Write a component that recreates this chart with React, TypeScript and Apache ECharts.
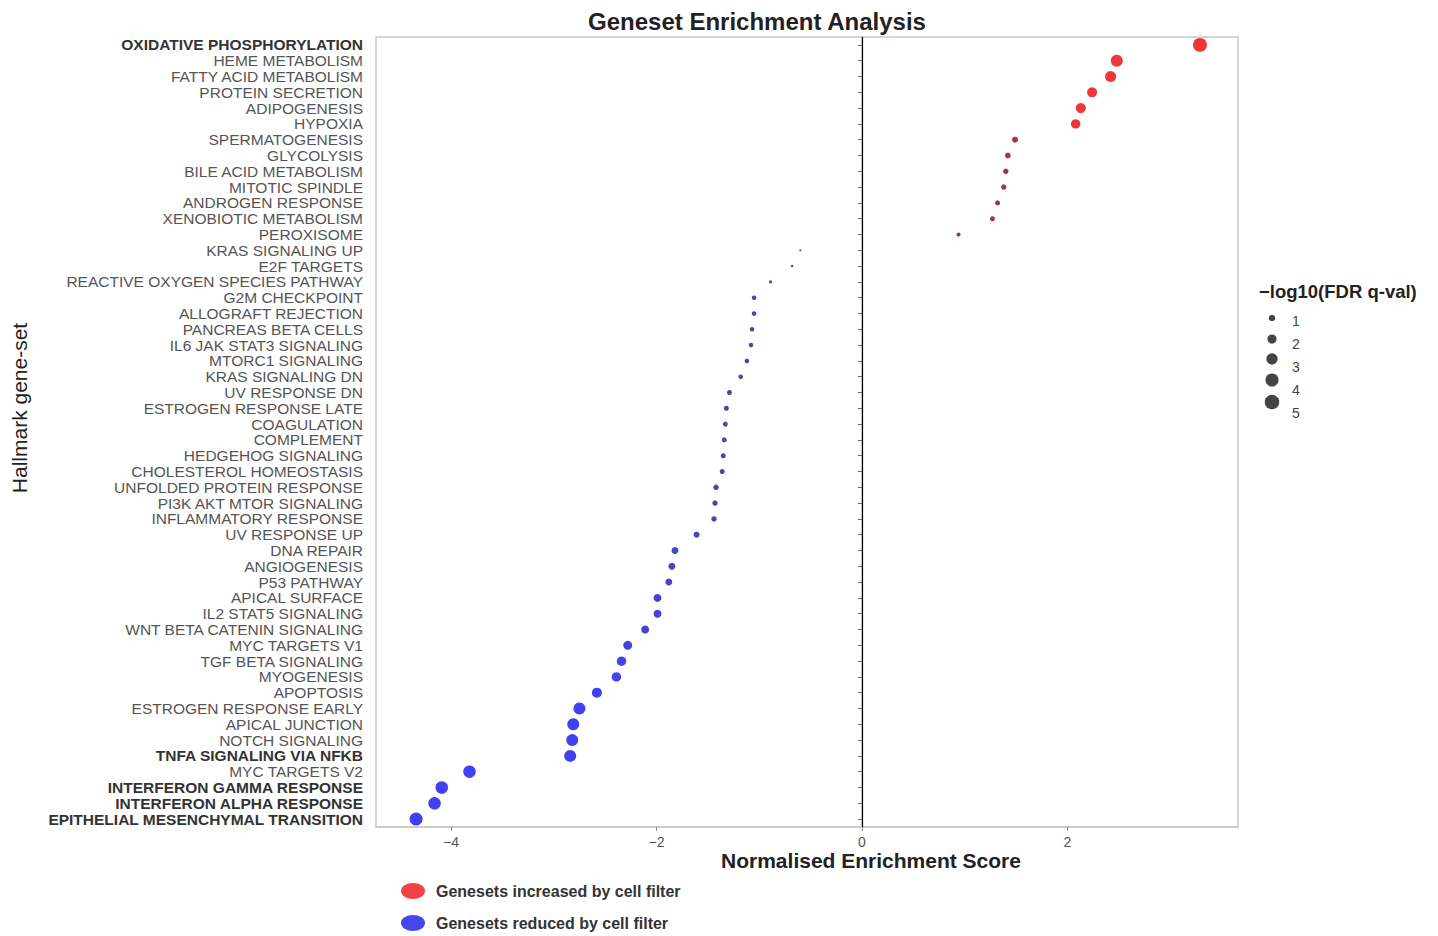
import React, { useEffect, useRef } from "react";
import * as echarts from "echarts";

const categories = [
  "OXIDATIVE PHOSPHORYLATION", "HEME METABOLISM", "FATTY ACID METABOLISM", "PROTEIN SECRETION",
  "ADIPOGENESIS", "HYPOXIA", "SPERMATOGENESIS", "GLYCOLYSIS", "BILE ACID METABOLISM",
  "MITOTIC SPINDLE", "ANDROGEN RESPONSE", "XENOBIOTIC METABOLISM", "PEROXISOME",
  "KRAS SIGNALING UP", "E2F TARGETS", "REACTIVE OXYGEN SPECIES PATHWAY", "G2M CHECKPOINT",
  "ALLOGRAFT REJECTION", "PANCREAS BETA CELLS", "IL6 JAK STAT3 SIGNALING", "MTORC1 SIGNALING",
  "KRAS SIGNALING DN", "UV RESPONSE DN", "ESTROGEN RESPONSE LATE", "COAGULATION", "COMPLEMENT",
  "HEDGEHOG SIGNALING", "CHOLESTEROL HOMEOSTASIS", "UNFOLDED PROTEIN RESPONSE",
  "PI3K AKT MTOR SIGNALING", "INFLAMMATORY RESPONSE", "UV RESPONSE UP", "DNA REPAIR",
  "ANGIOGENESIS", "P53 PATHWAY", "APICAL SURFACE", "IL2 STAT5 SIGNALING",
  "WNT BETA CATENIN SIGNALING", "MYC TARGETS V1", "TGF BETA SIGNALING", "MYOGENESIS",
  "APOPTOSIS", "ESTROGEN RESPONSE EARLY", "APICAL JUNCTION", "NOTCH SIGNALING",
  "TNFA SIGNALING VIA NFKB", "MYC TARGETS V2", "INTERFERON GAMMA RESPONSE",
  "INTERFERON ALPHA RESPONSE", "EPITHELIAL MESENCHYMAL TRANSITION",
];

const boldCategories = [
  "OXIDATIVE PHOSPHORYLATION", "TNFA SIGNALING VIA NFKB", "INTERFERON GAMMA RESPONSE",
  "INTERFERON ALPHA RESPONSE", "EPITHELIAL MESENCHYMAL TRANSITION",
];

// Normalised enrichment score per category (same order)
const nes = [
  3.29, 2.48, 2.42, 2.24, 2.13, 2.08, 1.49, 1.42, 1.40, 1.38, 1.32, 1.27, 0.94,
  -0.60, -0.68, -0.89, -1.05, -1.05, -1.07, -1.08, -1.12, -1.18, -1.29, -1.32,
  -1.33, -1.34, -1.35, -1.36, -1.42, -1.43, -1.44, -1.61, -1.82, -1.85, -1.88,
  -1.99, -1.99, -2.11, -2.28, -2.34, -2.39, -2.58, -2.75, -2.81, -2.82, -2.84,
  -3.82, -4.09, -4.16, -4.34,
];

// -log10(FDR q-val) per category (same order)
const logFdr = [
  4.6, 3.4, 2.9, 2.4, 2.4, 2.1, 0.85, 0.8, 0.7, 0.7, 0.6, 0.6, 0.38,
  0.1, 0.15, 0.22, 0.5, 0.5, 0.5, 0.5, 0.5, 0.5, 0.6, 0.6,
  0.6, 0.6, 0.6, 0.6, 0.7, 0.7, 0.7, 0.85, 1.15, 1.15, 1.15,
  1.5, 1.5, 1.5, 1.9, 2.1, 2.1, 2.4, 3.4, 3.4, 3.4, 3.4,
  3.7, 3.7, 3.7, 4.0,
];

const sizeLegendValues = [1, 2, 3, 4, 5];
const xTickValues = [-4, -2, 0, 2];
const seriesNames = ["Genesets increased by cell filter", "Genesets reduced by cell filter"];

const FONT = "'Liberation Sans', Arial, sans-serif";
const sizeOf = (v: number) => 6.5 * Math.sqrt(v);

function mix(a: number[], b: number[], t: number) {
  const c = a.map((x, i) => Math.round(x + (b[i] - x) * t));
  return `rgb(${c[0]},${c[1]},${c[2]})`;
}

export default function App() {
  const ref = useRef<HTMLDivElement>(null);
  useEffect(() => {
    if (!ref.current) return;
    const chart = echarts.init(ref.current, null, { renderer: "svg" });

    const up: any[] = [];
    const down: any[] = [];
    categories.forEach((c, i) => {
      const v = logFdr[i];
      const t = Math.min(1, v / 2.3);
      if (nes[i] > 0) {
        up.push({ value: [nes[i], c, v], itemStyle: { color: mix([135, 50, 75], [240, 55, 55], t) } });
      } else {
        down.push({ value: [nes[i], c, v], itemStyle: { color: mix([80, 75, 140], [65, 65, 240], t) } });
      }
    });

    const legendIcon = "path://M0,10 A10,10 0 1,1 20,10 A10,10 0 1,1 0,10 Z";

    const sizeLegend: any[] = [
      {
        type: "text",
        left: 1259,
        top: 282,
        style: { text: "\u2212log10(FDR q-val)", font: `bold 18.5px ${FONT}`, fill: "#222" },
      },
    ];
    const legendYs = [318, 339, 359, 380, 402];
    const labelYs = [321, 344, 367, 390, 413];
    sizeLegendValues.forEach((v, i) => {
      sizeLegend.push({
        type: "circle",
        shape: { cx: 1272, cy: legendYs[i], r: sizeOf(v) / 2 },
        style: { fill: "#444" },
      });
      sizeLegend.push({
        type: "text",
        x: 1292,
        y: labelYs[i],
        style: { text: String(v), font: `14px ${FONT}`, fill: "#444444", textVerticalAlign: "middle" },
      });
    });

    chart.setOption({
      animation: false,
      title: {
        text: "Geneset Enrichment Analysis",
        left: 752,
        top: 4,
        textAlign: "center",
        textStyle: { fontFamily: FONT, fontWeight: "bold", fontSize: 24, color: "#222" },
      },
      grid: {
        left: 376, right: 200, top: 37, bottom: 109,
        show: true, borderColor: "#c8c8c8", borderWidth: 1.5, backgroundColor: "#fff",
      },
      legend: {
        orient: "vertical",
        left: 401,
        top: 882,
        padding: 0,
        itemGap: 14,
        itemWidth: 24,
        itemHeight: 16,
        icon: legendIcon,
        symbolKeepAspect: false,
        data: [
          { name: seriesNames[0], itemStyle: { color: "#f04444", opacity: 1 } },
          { name: seriesNames[1], itemStyle: { color: "#4646f0", opacity: 1 } },
        ],
        textStyle: { fontFamily: FONT, fontWeight: "bold", fontSize: 16, color: "#333", padding: [0, 0, 0, 6], lineHeight: 18 },
      },
      xAxis: {
        type: "value",
        min: -4.73,
        max: 3.66,
        splitNumber: 4,
        splitLine: { show: false },
        axisLine: { show: true, onZero: false, lineStyle: { color: "#c8c8c8", width: 1.5 } },
        axisTick: { show: true, length: 4, lineStyle: { color: "#888" } },
        axisLabel: {
          margin: 8,
          showMinLabel: false,
          showMaxLabel: false,
          color: "#555",
          fontSize: 14,
          fontFamily: FONT,
          formatter: (v: number) => (xTickValues.includes(v) ? (v < 0 ? "\u2212" + Math.abs(v) : String(v)) : ""),
        },
      },
      yAxis: {
        type: "category",
        data: categories,
        inverse: true,
        axisLine: { show: true, lineStyle: { color: "#c8c8c8", width: 1.5 } },
        axisTick: { show: true, alignWithLabel: true, length: 4, lineStyle: { color: "#666" } },
        splitLine: { show: false },
        axisLabel: {
          margin: 13,
          interval: 0,
          formatter: (v: string) => (boldCategories.includes(v) ? `{b|${v}}` : `{n|${v}}`),
          rich: {
            b: { fontFamily: FONT, fontSize: 15.5, fontWeight: "bold", color: "#333" },
            n: { fontFamily: FONT, fontSize: 15.5, color: "#555" },
          },
        },
      },
      series: [
        {
          name: seriesNames[0],
          type: "scatter",
          data: up,
          symbolSize: (d: number[]) => sizeOf(d[2]),
          itemStyle: { color: "#f04444", opacity: 1 },
          markLine: {
            silent: true,
            symbol: ["none", "none"],
            label: { show: false },
            lineStyle: { color: "#000", type: "solid", width: 1.2 },
            data: [{ xAxis: 0 }],
          },
          z: 3,
        },
        {
          name: seriesNames[1],
          type: "scatter",
          data: down,
          symbolSize: (d: number[]) => sizeOf(d[2]),
          itemStyle: { color: "#4646f0", opacity: 1 },
          z: 3,
        },
      ],
      graphic: [
        {
          type: "text",
          x: 871,
          y: 860,
          style: {
            text: "Normalised Enrichment Score",
            font: `bold 21px ${FONT}`,
            fill: "#222",
            textAlign: "center",
            textVerticalAlign: "middle",
          },
        },
        {
          type: "text",
          x: 19,
          y: 408,
          rotation: Math.PI / 2,
          style: {
            text: "Hallmark gene-set",
            font: `21px ${FONT}`,
            fill: "#222",
            textAlign: "center",
            textVerticalAlign: "middle",
          },
        },
        ...sizeLegend,
      ],
    });
    return () => chart.dispose();
  }, []);
  return <div ref={ref} style={{ width: 1438, height: 936, position: "absolute", left: 0, top: 0 }} />;
}
